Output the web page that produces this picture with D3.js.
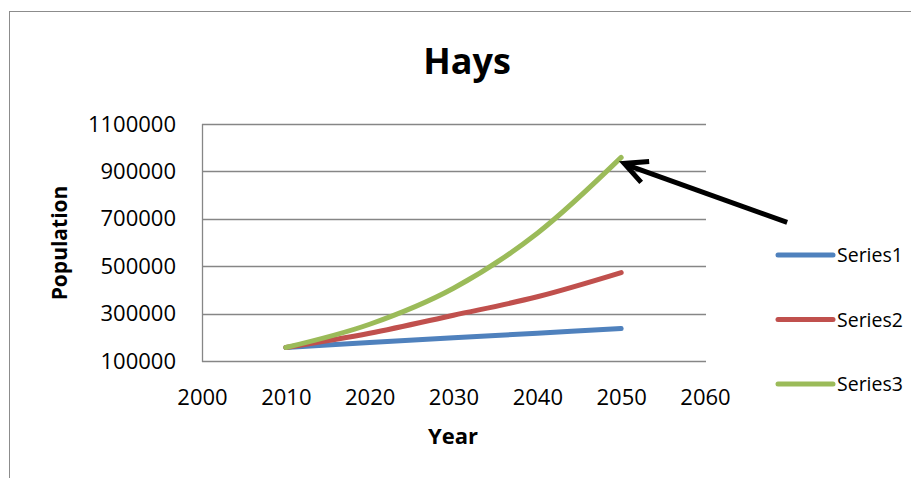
<!DOCTYPE html>
<html>
<head>
<meta charset="utf-8">
<script src="https://cdn.jsdelivr.net/npm/d3@7"></script>
<style>
  html, body { margin: 0; padding: 0; background: #ffffff; }
  svg { display: block; }
  text { font-family: "Open Sans", sans-serif; fill: #000; }
</style>
</head>
<body>
<svg id="chart" width="911" height="478"></svg>
<script>
// Projected population of Hays, three growth scenarios
const years = [2010, 2020, 2030, 2040, 2050];
const series1 = [157000, 178000, 198000, 217000, 237000];
const series2 = [157000, 217000, 293000, 371000, 473000];
const series3 = [157000, 255000, 407000, 639000, 959000];
const seriesNames = ["Series1", "Series2", "Series3"];
const seriesColors = ["#4F81BD", "#C0504D", "#9BBB59"];
const xTicks = [2000, 2010, 2020, 2030, 2040, 2050, 2060];
const yTicks = [100000, 300000, 500000, 700000, 900000, 1100000];

const svg = d3.select("#chart");
const FONT = "Open Sans";

// outer chart frame
svg.append("rect")
  .attr("x", 9.5).attr("y", 11.5)
  .attr("width", 1000).attr("height", 1000)
  .attr("fill", "none").attr("stroke", "#8c8c8c").attr("stroke-width", 1);

const plot = { left: 202, right: 705, top: 124, bottom: 361 };

const x = d3.scaleLinear().domain([2000, 2060]).range([plot.left, plot.right]);
const y = d3.scaleLinear().domain([100000, 1100000]).range([plot.bottom, plot.top]);

// horizontal gridlines
svg.append("g").selectAll("line").data(yTicks).join("line")
  .attr("x1", plot.left).attr("x2", plot.right + 1)
  .attr("y1", d => Math.round(y(d)) + 0.5).attr("y2", d => Math.round(y(d)) + 0.5)
  .attr("stroke", "#868686").attr("stroke-width", 1.3);

// y axis line
svg.append("line")
  .attr("x1", plot.left + 0.5).attr("x2", plot.left + 0.5)
  .attr("y1", plot.top).attr("y2", plot.bottom + 1)
  .attr("stroke", "#868686").attr("stroke-width", 1.3);

// y tick labels
const yAxis = d3.axisLeft(y).tickValues(yTicks).tickFormat(d3.format("d")).tickSize(0).tickPadding(26);
const gy = svg.append("g").attr("transform", `translate(${plot.left},0)`).call(yAxis);
gy.select(".domain").remove();
gy.selectAll("text").attr("font-size", 22).attr("font-family", FONT).attr("fill", "#000");

// x tick labels
const xAxis = d3.axisBottom(x).tickValues(xTicks).tickFormat(d3.format("d")).tickSize(0).tickPadding(28);
const gx = svg.append("g").attr("transform", `translate(0,${plot.bottom})`).call(xAxis);
gx.select(".domain").remove();
gx.selectAll("text").attr("font-size", 22).attr("font-family", FONT).attr("fill", "#000");

// series lines
const allSeries = [series1, series2, series3];
const line = d3.line()
  .x((d, i) => x(years[i]))
  .y(d => y(d))
  .curve(d3.curveCatmullRom.alpha(0));

svg.append("g").selectAll("path").data(allSeries).join("path")
  .attr("d", d => line(d))
  .attr("fill", "none")
  .attr("stroke", (d, i) => seriesColors[i])
  .attr("stroke-width", 5)
  .attr("stroke-linecap", "round")
  .attr("stroke-linejoin", "round");

// title
svg.append("text")
  .attr("x", 467).attr("y", 74)
  .attr("text-anchor", "middle")
  .attr("font-size", 36).attr("font-weight", "bold")
  .text("Hays");

// axis titles
svg.append("text")
  .attr("x", 453).attr("y", 444)
  .attr("text-anchor", "middle")
  .attr("font-size", 22).attr("font-weight", "bold")
  .text("Year");

svg.append("text")
  .attr("transform", "translate(67,243) rotate(-90)")
  .attr("text-anchor", "middle")
  .attr("font-size", 21).attr("font-weight", "bold")
  .text("Population");

// legend
const legend = svg.append("g").selectAll("g").data(seriesNames).join("g")
  .attr("transform", (d, i) => `translate(778,${255 + i * 64.5})`);
legend.append("line")
  .attr("x1", 0).attr("x2", 55).attr("y1", 0).attr("y2", 0)
  .attr("stroke", (d, i) => seriesColors[i])
  .attr("stroke-width", 5).attr("stroke-linecap", "round");
legend.append("text")
  .attr("x", 59).attr("y", 7)
  .attr("font-size", 19.5)
  .text(d => d);

// arrow pointing at the end of Series3
const tipX = x(years[years.length - 1]) + 2;
const tipY = y(series3[series3.length - 1]) + 6;
const arrow = svg.append("g")
  .attr("fill", "none").attr("stroke", "#000").attr("stroke-width", 5)
  .attr("stroke-linecap", "butt").attr("stroke-linejoin", "miter");
arrow.append("line")
  .attr("x1", tipX + 164).attr("y1", tipY + 59)
  .attr("x2", tipX + 2).attr("y2", tipY + 1);
arrow.append("path")
  .attr("d", `M${tipX + 26},${tipY - 2} L${tipX + 1},${tipY} L${tipX + 18},${tipY + 19}`);
</script>
</body>
</html>
